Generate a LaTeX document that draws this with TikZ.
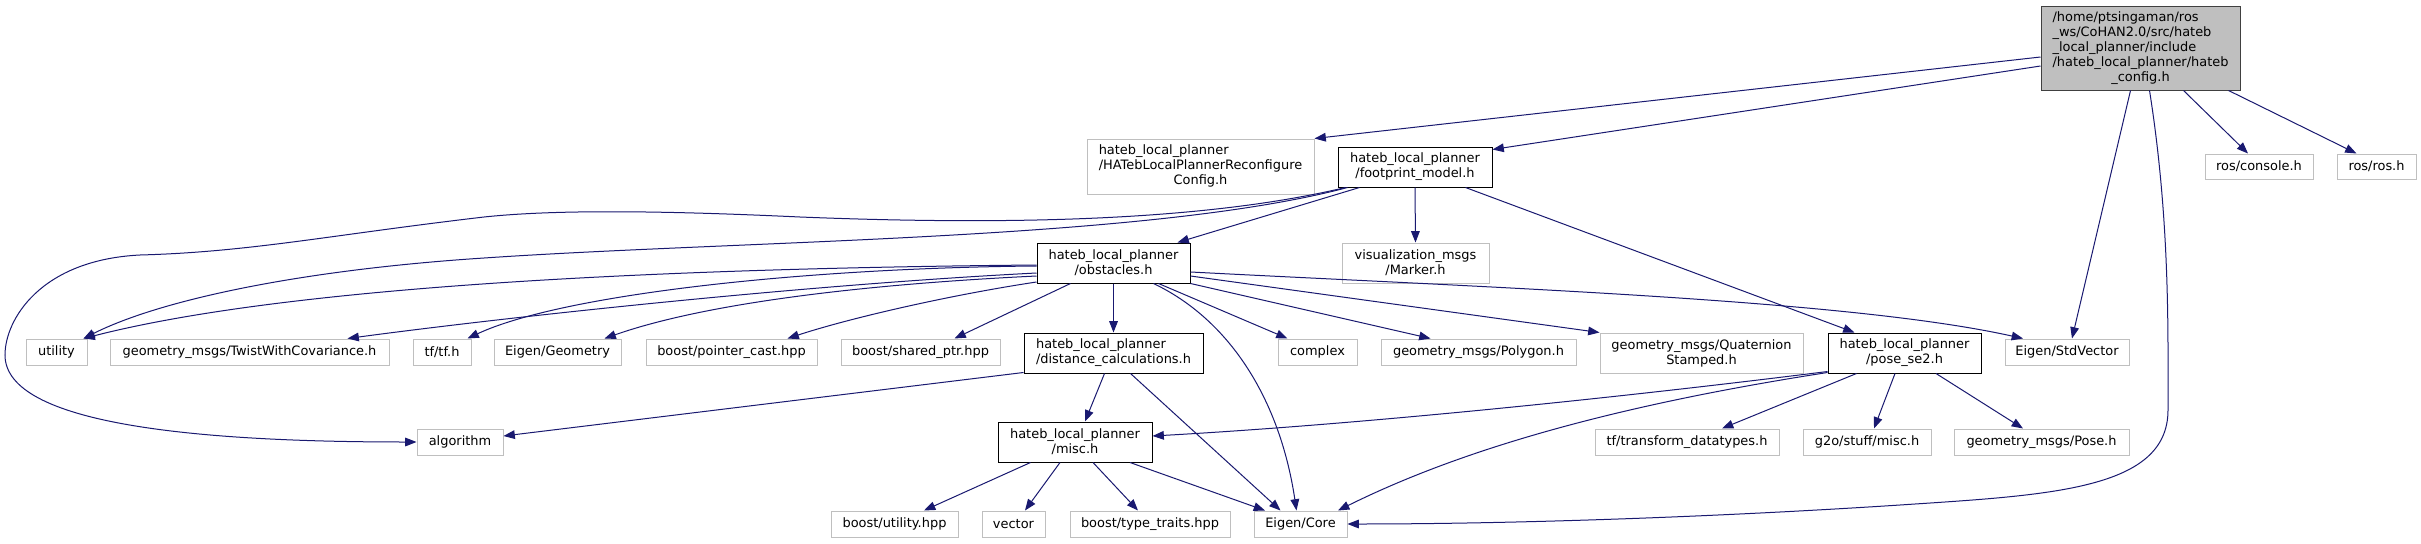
\documentclass[tikz,border=0pt]{standalone}
\usepackage{fontspec}
\setmainfont{DejaVu Sans}
\usepackage{tikz}
\usetikzlibrary{arrows.meta}
\definecolor{incblue}{HTML}{191970}
\definecolor{incgray}{HTML}{BFBFBF}
\definecolor{incdark}{HTML}{404040}
\newcommand{\lastline}[1]{\multicolumn{1}{@{}c@{}}{#1}}
\tikzset{
  incbox/.style={draw, rectangle, fill=white, align=center, inner sep=1pt,
    line width=0.75pt, font=\fontsize{9.7}{11.25}\selectfont},
  boxsize/.style 2 args={minimum width=#1*0.75pt, minimum height=#2*0.75pt},
  smain/.style={fill=incgray, draw=incdark},
  sdoc/.style={draw=black},
  sext/.style={draw=incgray},
  incarrow/.style={-{Triangle[length=8.5pt, width=6.5pt]}, line width=0.75pt, incblue},
}

\begin{document}
\begin{tikzpicture}[x=0.75pt, y=-0.75pt]
  \path[use as bounding box, fill=white] (0,0) rectangle (2421,543);

  \node[incbox, smain, boxsize={199}{84}] (main) at (2140.5,48)
    {\begin{tabular}{@{}l@{}}/home/ptsingaman/ros\\\_ws/CoHAN2.0/src/hateb\\\_local\_planner/include\\/hateb\_local\_planner/hateb\\\lastline{\_config.h}\end{tabular}};

  \node[incbox, sext, boxsize={227}{55}] (hconf) at (1200.5,166.5)
    {\begin{tabular}{@{}l@{}}hateb\_local\_planner\\/HATebLocalPlannerReconfigure\\\lastline{Config.h}\end{tabular}};
  \node[incbox, sdoc, boxsize={154}{40}] (footp) at (1415,167) {hateb\_local\_planner\\/footprint\_model.h};
  \node[incbox, sext, boxsize={108}{25}] (rcons) at (2259,166.5) {ros/console.h};
  \node[incbox, sext, boxsize={79}{25}] (rros) at (2376.5,166.5) {ros/ros.h};

  \node[incbox, sdoc, boxsize={153}{40}] (obst) at (1113.5,263) {hateb\_local\_planner\\/obstacles.h};
  \node[incbox, sext, boxsize={147}{40}] (marker) at (1415.5,263) {visualization\_msgs\\/Marker.h};

  \node[incbox, sext, boxsize={61}{26}] (utility) at (56.5,352) {utility};
  \node[incbox, sext, boxsize={279}{26}] (twist) at (249.5,352) {geometry\_msgs/TwistWithCovariance.h};
  \node[incbox, sext, boxsize={58}{26}] (tftf) at (442,352) {tf/tf.h};
  \node[incbox, sext, boxsize={127}{26}] (egeom) at (557.5,352) {Eigen/Geometry};
  \node[incbox, sext, boxsize={171}{26}] (bpcast) at (731.5,352) {boost/pointer\_cast.hpp};
  \node[incbox, sext, boxsize={159}{26}] (bshptr) at (920.5,352) {boost/shared\_ptr.hpp};
  \node[incbox, sdoc, align=left, boxsize={179}{40}] (dist) at (1113.5,353) {hateb\_local\_planner\\/distance\_calculations.h};
  \node[incbox, sext, boxsize={79}{26}] (complex) at (1317.5,352) {complex};
  \node[incbox, sext, boxsize={195}{26}] (polygon) at (1478.5,352) {geometry\_msgs/Polygon.h};
  \node[incbox, sext, boxsize={203}{40}] (quat) at (1701.5,353) {geometry\_msgs/Quaternion\\Stamped.h};
  \node[incbox, sdoc, boxsize={153}{40}] (pose) at (1904.5,353) {hateb\_local\_planner\\/pose\_se2.h};
  \node[incbox, sext, boxsize={124}{26}] (estdv) at (2067,352) {Eigen/StdVector};

  \node[incbox, sext, boxsize={86}{26}] (algo) at (460,442) {algorithm};
  \node[incbox, sdoc, boxsize={154}{40}] (misc) at (1075,442) {hateb\_local\_planner\\/misc.h};
  \node[incbox, sext, boxsize={184}{26}] (tftrans) at (1687,442) {tf/transform\_datatypes.h};
  \node[incbox, sext, boxsize={128}{26}] (g2o) at (1867,442) {g2o/stuff/misc.h};
  \node[incbox, sext, boxsize={175}{26}] (gpose) at (2041.5,442) {geometry\_msgs/Pose.h};

  \node[incbox, sext, boxsize={127}{26}] (butil) at (894.5,524) {boost/utility.hpp};
  \node[incbox, sext, boxsize={63}{26}] (vector) at (1013.5,524) {vector};
  \node[incbox, sext, boxsize={160}{26}] (btype) at (1150,524) {boost/type\_traits.hpp};
  \node[incbox, sext, boxsize={93}{26}] (ecore) at (1300.5,524) {Eigen/Core};

  \draw[incarrow] ([shift={(0,9)}]main.west) -- (hconf.north east);
  \draw[incarrow] ([shift={(0,18)}]main.west) -- ([shift={(0,3)}]footp.north east);
  \draw[incarrow] ([shift={(-10,0)}]main.south) -- ([shift={(5,0)}]estdv.north);
  \draw[incarrow] ([shift={(9,0)}]main.south) .. controls (2170,220) and (2168,330) .. (2168,410)
    .. controls (2168,490) and (2050,495) .. (1900,505) .. controls (1700,518) and (1500,524) .. (ecore.east);
  \draw[incarrow] ([shift={(43,0)}]main.south) -- ([shift={(-11,0)}]rcons.north);
  \draw[incarrow] ([shift={(88,0)}]main.south) -- ([shift={(-20,0)}]rros.north);

  \draw[incarrow] ([shift={(22,0)}]footp.south west) -- ([shift={(64,0)}]obst.north);
  \draw[incarrow] (footp.south) -- (marker.north);
  \draw[incarrow] ([shift={(-27,0)}]footp.south east) -- ([shift={(-50,0)}]pose.north);
  \draw[incarrow] ([shift={(10,0)}]footp.south west) .. controls (1150,240) and (750,240) .. (484,258)
    .. controls (300,270) and (160,300) .. ([shift={(-4,0)}]utility.north east);
  \draw[incarrow] ([shift={(8,0)}]footp.south west) .. controls (1200,222) and (1000,225) .. (800,217)
    .. controls (650,210) and (550,210) .. (484,217) .. controls (330,235) and (250,252) .. (140,255)
    .. controls (40,260) and (5,320) .. (5,355) .. controls (5,425) and (200,442) .. (algo.west);

  \draw[incarrow] ([shift={(0,2)}]obst.west) .. controls (700,268) and (300,283) .. ([shift={(-4,0)}]utility.north east);
  \draw[incarrow] ([shift={(0,10)}]obst.west) .. controls (800,285) and (500,318) .. ([shift={(-42,0)}]twist.north east);
  \draw[incarrow] ([shift={(0,3)}]obst.west) .. controls (800,268) and (560,295) .. ([shift={(-4,0)}]tftf.north east);
  \draw[incarrow] ([shift={(0,13)}]obst.west) .. controls (850,285) and (700,305) .. ([shift={(-17,0)}]egeom.north east);
  \draw[incarrow] ([shift={(0,19)}]obst.west) .. controls (950,295) and (850,318) .. ([shift={(-30,0)}]bpcast.north east);
  \draw[incarrow] ([shift={(34,0)}]obst.south west) -- ([shift={(-46,0)}]bshptr.north east);
  \draw[incarrow] (obst.south) -- (dist.north);
  \draw[incarrow] ([shift={(40,0)}]obst.south) .. controls (1230,320) and (1280,400) .. ([shift={(-4,0)}]ecore.north);
  \draw[incarrow] ([shift={(45,0)}]obst.south) -- ([shift={(-30,0)}]complex.north);
  \draw[incarrow] (obst.south east) -- ([shift={(-48,0)}]polygon.north);
  \draw[incarrow] ([shift={(0,13)}]obst.east) -- (quat.north west);
  \draw[incarrow] ([shift={(0,9)}]obst.east) .. controls (1500,288) and (1850,300) .. ([shift={(-44,0)}]estdv.north);

  \draw[incarrow] ([shift={(0,-1)}]dist.south west) -- ([shift={(0,-6)}]algo.east);
  \draw[incarrow] ([shift={(-9,0)}]dist.south) -- ([shift={(10,0)}]misc.north);
  \draw[incarrow] ([shift={(17,0)}]dist.south) -- ([shift={(-20,0)}]ecore.north);

  \draw[incarrow] ([shift={(33,0)}]misc.south west) -- ([shift={(29.5,0)}]butil.north);
  \draw[incarrow] ([shift={(-15,0)}]misc.south) -- ([shift={(11.5,0)}]vector.north);
  \draw[incarrow] ([shift={(18,0)}]misc.south) -- ([shift={(-12,0)}]btype.north);
  \draw[incarrow] ([shift={(55,0)}]misc.south) -- ([shift={(-35.5,0)}]ecore.north);

  \draw[incarrow] ([shift={(0,-2)}]pose.south west) .. controls (1600,400) and (1350,425) .. ([shift={(0,-6)}]misc.east);
  \draw[incarrow] ([shift={(0,-1)}]pose.south west) .. controls (1650,400) and (1480,440) .. ([shift={(37.5,0)}]ecore.north);
  \draw[incarrow] ([shift={(29,0)}]pose.south west) -- ([shift={(35,0)}]tftrans.north);
  \draw[incarrow] ([shift={(-9.5,0)}]pose.south) -- ([shift={(7,0)}]g2o.north);
  \draw[incarrow] ([shift={(31.5,0)}]pose.south) -- ([shift={(-18.5,0)}]gpose.north);
\end{tikzpicture}
\end{document}
